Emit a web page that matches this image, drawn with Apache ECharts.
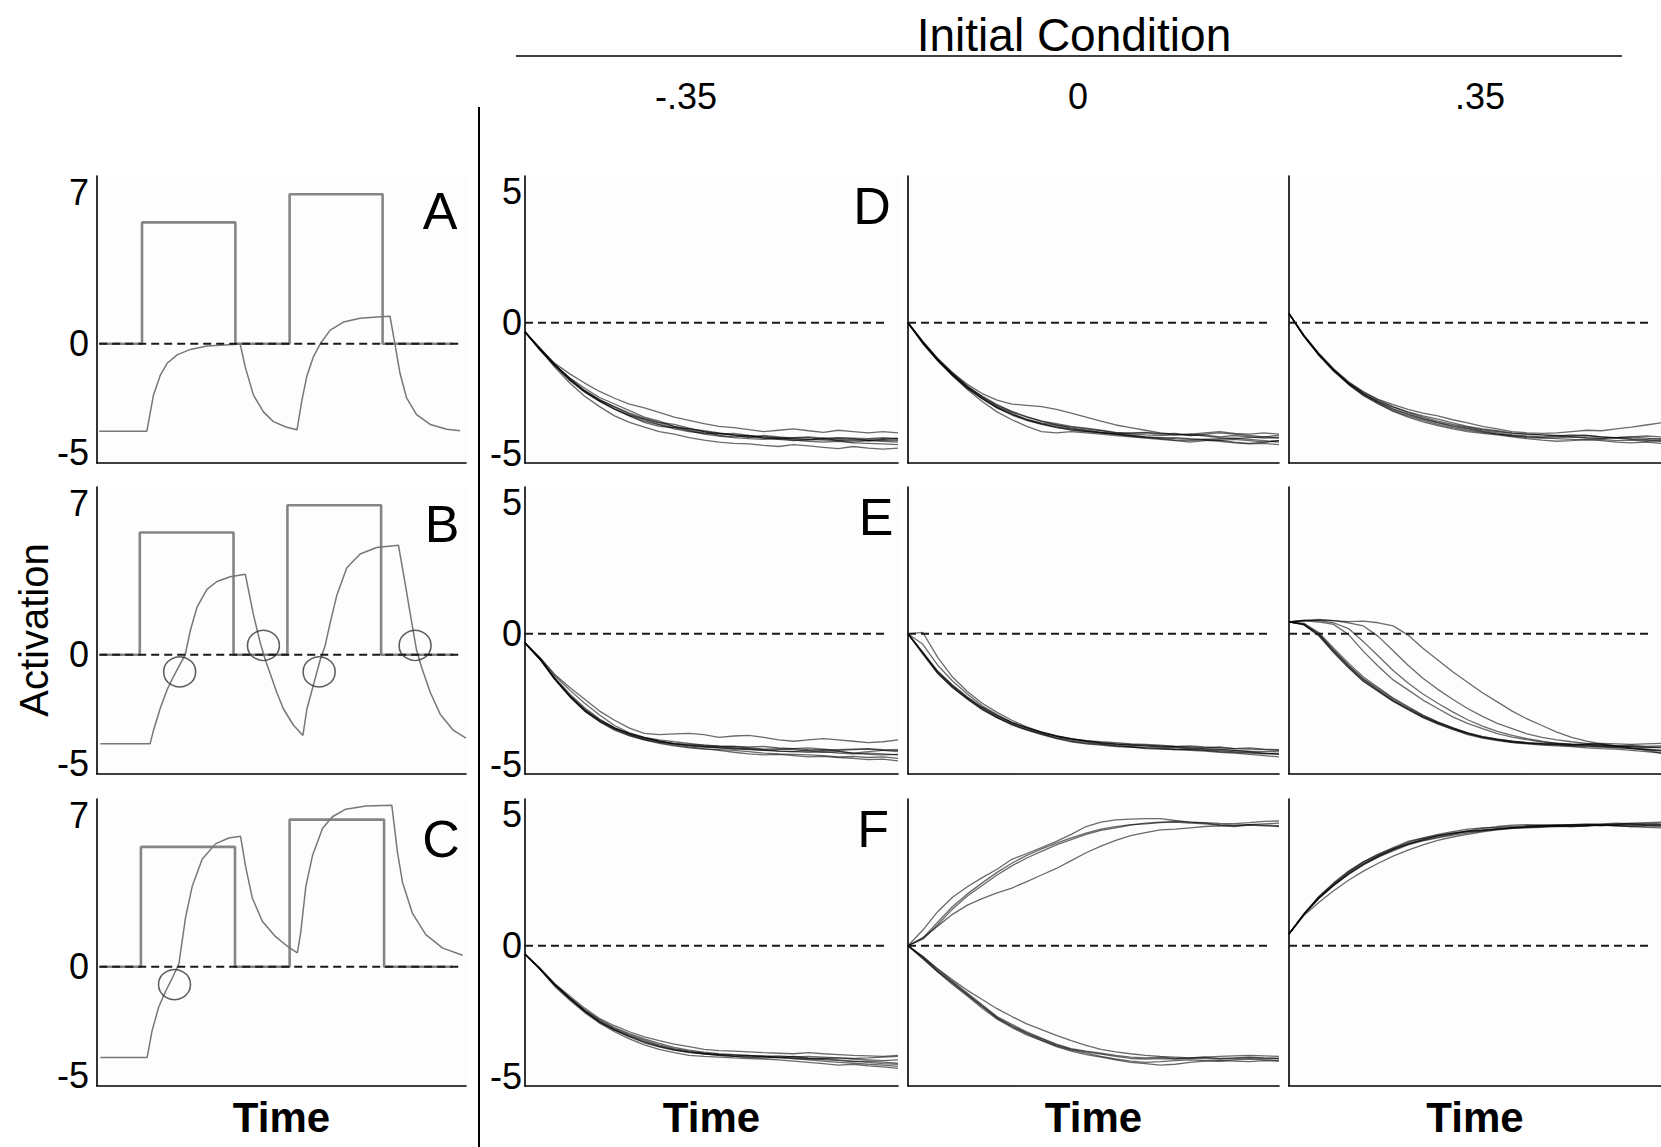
<!DOCTYPE html>
<html><head><meta charset="utf-8">
<script src="https://cdn.jsdelivr.net/npm/echarts/dist/echarts.min.js"></script>
<style>html,body{margin:0;padding:0;background:#fff}#c{width:1661px;height:1147px}</style>
</head><body><div id="c"></div>
<script>
const FONT = '"Liberation Sans", Arial, sans-serif';

// ---------- tick labels / text ----------
const leftTicks = [-5, 0, 7];
const rightTicks = [-5, 0, 5];
const conditionLabels = ['-.35', '0', '.35'];
const headerTitle = 'Initial Condition';
const leftLetters = ['A', 'B', 'C'];
const rightLetters = ['D', 'E', 'F'];

// ---------- left panels (time, value) ----------
const inputA = [[0.6,0],[12.2,0],[12.2,5.6],[37.5,5.6],[37.5,0],[52.2,0],[52.2,6.9],[77.4,6.9],[77.4,0],[96.5,0]];
const activationA = [[0.6,-4.04],[13.5,-4.04],[15.3,-2.37],[17.1,-1.47],[19.0,-0.9],[21.7,-0.51],[25.3,-0.26],[29.8,-0.1],[37.0,-0.03],[38.8,-0.01],[40.2,-1.09],[42.4,-2.37],[45.1,-3.14],[47.8,-3.59],[51.4,-3.85],[54.2,-3.97],[55.5,-2.63],[56.9,-1.47],[58.7,-0.58],[60.5,0],[63.2,0.63],[66.8,1.0],[71.3,1.18],[75.8,1.23],[79.4,1.27],[80.8,-0.06],[82.1,-1.35],[83.9,-2.5],[86.6,-3.27],[90.3,-3.72],[94.8,-3.94],[98.4,-4.01]];
const inputB = [[0.9,0],[11.6,0],[11.6,5.64],[37.0,5.64],[37.0,0],[51.6,0],[51.6,6.9],[77.0,6.9],[77.0,0],[96.6,0]];
const activationB = [[0.9,-4.1],[14.4,-4.1],[15.3,-3.49],[17.1,-2.49],[19.0,-1.61],[20.8,-0.98],[22.6,-0.41],[23.9,0],[25.3,1.12],[27.1,2.2],[29.8,3.02],[32.5,3.38],[36.1,3.6],[40.2,3.71],[42.4,1.84],[44.2,0.58],[45.6,-0.23],[46.9,-0.85],[48.7,-1.73],[50.5,-2.49],[53.2,-3.24],[55.8,-3.72],[56.9,-2.49],[58.7,-1.36],[60.5,-0.23],[61.8,0.4],[63.2,1.48],[65.0,2.75],[67.7,4.01],[71.3,4.65],[75.8,4.95],[81.7,5.05],[83.5,3.29],[85.3,1.48],[86.6,0.22],[88.0,-0.6],[90.3,-1.73],[93.0,-2.74],[96.6,-3.49],[100,-3.85]];
const circlesB = [[22.4,-0.79],[45.1,0.43],[60.2,-0.79],[86.2,0.43]];
const inputC = [[0.9,0],[11.9,0],[11.9,5.53],[37.4,5.53],[37.4,0],[52.2,0],[52.2,6.79],[77.8,6.79],[77.8,0],[96.4,0]];
const activationC = [[0.9,-4.18],[13.6,-4.18],[14.9,-2.97],[16.7,-1.87],[18.6,-1.13],[20.4,-0.52],[22.2,0.14],[24.0,2.28],[25.8,3.71],[28.5,4.96],[32.1,5.67],[35.7,5.94],[38.9,6.02],[40.3,4.6],[42.1,3.17],[44.8,2.1],[48.4,1.39],[52.0,0.89],[54.3,0.64],[55.2,1.57],[56.6,3.71],[58.4,5.13],[61.1,6.38],[63.8,6.92],[67.4,7.27],[72.9,7.42],[79.9,7.45],[81.4,5.31],[82.8,3.89],[85.5,2.46],[89.1,1.48],[93.7,0.86],[99.1,0.53]];
const circlesC = [[21.0,-0.82]];
const zeroLeft = [[0.6,0],[98.8,0]];
const zeroRight = [[0,0],[97,0]];

// ---------- right panels: trajectories sampled at these times ----------
const time = [0,4,8,12,16,20,24,28,32,36,40,44,48,52,56,60,64,68,72,76,80,84,88,92,96,100];

const panelD_neg = [
[-0.35,-1.02,-1.62,-2.1,-2.5,-2.85,-3.1,-3.35,-3.6,-3.75,-3.95,-4.1,-4.2,-4.22,-4.3,-4.38,-4.3,-4.35,-4.4,-4.38,-4.45,-4.4,-4.42,-4.5,-4.45,-4.4],
[-0.35,-1.0,-1.7,-2.3,-2.8,-3.2,-3.55,-3.8,-3.98,-4.15,-4.25,-4.38,-4.48,-4.55,-4.6,-4.62,-4.68,-4.72,-4.65,-4.7,-4.75,-4.8,-4.72,-4.78,-4.82,-4.78],
[-0.35,-1.0,-1.55,-1.95,-2.3,-2.62,-2.88,-3.1,-3.25,-3.42,-3.6,-3.72,-3.85,-3.95,-4.0,-4.08,-4.15,-4.1,-4.05,-4.12,-4.18,-4.1,-4.15,-4.2,-4.15,-4.2],
[-0.35,-1.05,-1.65,-2.2,-2.65,-3.0,-3.3,-3.55,-3.8,-3.95,-4.0,-4.05,-4.15,-4.3,-4.35,-4.3,-4.4,-4.45,-4.5,-4.45,-4.4,-4.5,-4.55,-4.5,-4.52,-4.55],
[-0.35,-0.95,-1.58,-2.15,-2.6,-2.95,-3.2,-3.45,-3.65,-3.8,-3.88,-4.02,-4.15,-4.22,-4.28,-4.32,-4.35,-4.38,-4.45,-4.48,-4.42,-4.45,-4.5,-4.45,-4.42,-4.45],
[-0.35,-1.0,-1.62,-2.18,-2.62,-2.98,-3.3,-3.55,-3.75,-3.9,-4.05,-4.15,-4.22,-4.25,-4.22,-4.3,-4.35,-4.4,-4.38,-4.35,-4.4,-4.38,-4.4,-4.42,-4.38,-4.42],
[-0.35,-1.02,-1.6,-2.12,-2.58,-2.92,-3.22,-3.48,-3.7,-3.88,-4.0,-4.12,-4.25,-4.32,-4.38,-4.42,-4.45,-4.42,-4.48,-4.52,-4.55,-4.52,-4.58,-4.6,-4.62,-4.65],
[-0.35,-0.98,-1.6,-2.15,-2.62,-2.98,-3.28,-3.52,-3.68,-3.82,-3.95,-4.05,-4.12,-4.2,-4.28,-4.35,-4.4,-4.42,-4.4,-4.45,-4.48,-4.5,-4.45,-4.5,-4.48,-4.5]
];
const panelD_zero = [
[0,-0.72,-1.35,-1.9,-2.35,-2.7,-2.95,-3.1,-3.15,-3.2,-3.3,-3.45,-3.6,-3.75,-3.9,-4.0,-4.1,-4.2,-4.25,-4.3,-4.28,-4.35,-4.3,-4.35,-4.4,-4.38],
[0,-0.78,-1.45,-2.02,-2.55,-3.0,-3.4,-3.7,-3.95,-4.15,-4.2,-4.15,-4.2,-4.25,-4.3,-4.35,-4.4,-4.45,-4.5,-4.55,-4.5,-4.48,-4.55,-4.6,-4.55,-4.5],
[0,-0.75,-1.4,-1.92,-2.42,-2.82,-3.15,-3.4,-3.6,-3.75,-3.85,-3.95,-4.02,-4.1,-4.18,-4.22,-4.2,-4.25,-4.22,-4.3,-4.25,-4.2,-4.25,-4.3,-4.35,-4.3],
[0,-0.8,-1.42,-2.0,-2.5,-2.9,-3.25,-3.5,-3.7,-3.85,-3.98,-4.1,-4.15,-4.2,-4.25,-4.3,-4.35,-4.42,-4.48,-4.5,-4.45,-4.42,-4.4,-4.45,-4.5,-4.55],
[0,-0.7,-1.38,-1.95,-2.45,-2.85,-3.2,-3.45,-3.68,-3.82,-3.9,-3.98,-4.05,-4.12,-4.2,-4.25,-4.28,-4.3,-4.28,-4.25,-4.32,-4.38,-4.42,-4.38,-4.35,-4.4],
[0,-0.76,-1.42,-1.98,-2.48,-2.88,-3.22,-3.48,-3.7,-3.86,-3.96,-4.05,-4.12,-4.18,-4.25,-4.3,-4.35,-4.38,-4.42,-4.45,-4.48,-4.52,-4.58,-4.62,-4.6,-4.65],
[0,-0.74,-1.4,-1.95,-2.42,-2.8,-3.12,-3.38,-3.58,-3.75,-3.9,-4.02,-4.1,-4.18,-4.22,-4.2,-4.18,-4.22,-4.28,-4.25,-4.2,-4.15,-4.22,-4.25,-4.2,-4.25],
[0,-0.78,-1.44,-2.0,-2.5,-2.9,-3.25,-3.52,-3.72,-3.88,-4.0,-4.08,-4.14,-4.2,-4.25,-4.32,-4.38,-4.4,-4.38,-4.42,-4.45,-4.48,-4.45,-4.5,-4.55,-4.5]
];
const panelD_pos = [
[0.35,-0.48,-1.18,-1.78,-2.28,-2.65,-2.92,-3.12,-3.3,-3.45,-3.55,-3.7,-3.82,-3.95,-4.05,-4.15,-4.2,-4.22,-4.2,-4.15,-4.1,-4.12,-4.05,-3.98,-3.9,-3.82],
[0.35,-0.52,-1.22,-1.82,-2.35,-2.78,-3.1,-3.38,-3.6,-3.78,-3.92,-4.05,-4.15,-4.22,-4.28,-4.35,-4.42,-4.48,-4.52,-4.5,-4.45,-4.5,-4.55,-4.58,-4.55,-4.6],
[0.35,-0.5,-1.2,-1.8,-2.3,-2.7,-3.0,-3.22,-3.4,-3.55,-3.68,-3.82,-3.95,-4.05,-4.12,-4.2,-4.25,-4.28,-4.3,-4.32,-4.3,-4.35,-4.38,-4.35,-4.32,-4.35],
[0.35,-0.5,-1.24,-1.85,-2.35,-2.75,-3.08,-3.35,-3.55,-3.72,-3.88,-4.0,-4.1,-4.18,-4.25,-4.3,-4.35,-4.38,-4.42,-4.45,-4.48,-4.45,-4.5,-4.48,-4.52,-4.5],
[0.35,-0.46,-1.16,-1.75,-2.25,-2.62,-2.95,-3.2,-3.42,-3.6,-3.75,-3.88,-3.98,-4.08,-4.15,-4.22,-4.25,-4.28,-4.32,-4.35,-4.38,-4.4,-4.38,-4.42,-4.45,-4.42],
[0.35,-0.52,-1.22,-1.82,-2.32,-2.72,-3.02,-3.28,-3.48,-3.65,-3.8,-3.92,-4.02,-4.12,-4.2,-4.28,-4.32,-4.35,-4.32,-4.28,-4.3,-4.35,-4.4,-4.45,-4.48,-4.52],
[0.35,-0.5,-1.2,-1.8,-2.3,-2.7,-3.05,-3.3,-3.5,-3.68,-3.82,-3.95,-4.05,-4.15,-4.25,-4.32,-4.38,-4.4,-4.38,-4.35,-4.4,-4.42,-4.38,-4.35,-4.4,-4.45]
];
const panelE_neg = [
[-0.35,-0.9,-1.55,-2.05,-2.5,-2.95,-3.3,-3.6,-3.8,-3.85,-3.82,-3.8,-3.85,-3.95,-3.9,-3.88,-3.95,-4.05,-4.1,-4.05,-4.0,-4.05,-4.1,-4.15,-4.12,-4.05],
[-0.35,-0.98,-1.75,-2.4,-2.95,-3.35,-3.68,-3.9,-4.05,-4.15,-4.25,-4.32,-4.38,-4.45,-4.52,-4.58,-4.62,-4.6,-4.65,-4.7,-4.68,-4.72,-4.75,-4.8,-4.78,-4.85],
[-0.35,-0.92,-1.6,-2.15,-2.65,-3.1,-3.5,-3.78,-3.95,-4.1,-4.2,-4.28,-4.32,-4.35,-4.4,-4.38,-4.42,-4.48,-4.5,-4.45,-4.42,-4.48,-4.55,-4.5,-4.45,-4.42],
[-0.35,-0.97,-1.72,-2.38,-2.92,-3.32,-3.62,-3.82,-3.98,-4.1,-4.2,-4.25,-4.3,-4.32,-4.3,-4.35,-4.4,-4.38,-4.42,-4.48,-4.52,-4.5,-4.55,-4.6,-4.62,-4.6],
[-0.35,-0.95,-1.7,-2.35,-2.88,-3.28,-3.6,-3.85,-4.02,-4.12,-4.18,-4.22,-4.25,-4.3,-4.35,-4.4,-4.45,-4.42,-4.38,-4.35,-4.4,-4.45,-4.42,-4.4,-4.45,-4.5],
[-0.35,-0.96,-1.74,-2.4,-2.95,-3.35,-3.65,-3.88,-4.05,-4.18,-4.28,-4.35,-4.4,-4.42,-4.45,-4.5,-4.55,-4.58,-4.6,-4.62,-4.65,-4.7,-4.68,-4.72,-4.7,-4.75],
[-0.35,-0.94,-1.68,-2.3,-2.82,-3.25,-3.58,-3.8,-3.95,-4.05,-4.12,-4.18,-4.25,-4.28,-4.3,-4.32,-4.3,-4.35,-4.38,-4.42,-4.45,-4.42,-4.4,-4.38,-4.42,-4.45],
[-0.35,-0.96,-1.72,-2.36,-2.9,-3.3,-3.6,-3.82,-3.98,-4.1,-4.2,-4.26,-4.3,-4.35,-4.38,-4.42,-4.45,-4.48,-4.5,-4.52,-4.5,-4.55,-4.58,-4.55,-4.58,-4.62]
];
const panelE_zero = [
[0,0.05,-0.9,-1.65,-2.2,-2.65,-3.0,-3.3,-3.55,-3.75,-3.9,-4.0,-4.1,-4.15,-4.2,-4.25,-4.28,-4.3,-4.32,-4.35,-4.38,-4.4,-4.45,-4.5,-4.55,-4.6],
[0,-0.75,-1.5,-2.05,-2.5,-2.9,-3.2,-3.45,-3.65,-3.82,-3.98,-4.1,-4.18,-4.22,-4.28,-4.32,-4.35,-4.38,-4.42,-4.45,-4.48,-4.52,-4.55,-4.6,-4.65,-4.7],
[0,-0.7,-1.42,-1.95,-2.4,-2.8,-3.12,-3.4,-3.6,-3.78,-3.92,-4.02,-4.08,-4.12,-4.15,-4.2,-4.22,-4.25,-4.3,-4.32,-4.35,-4.32,-4.38,-4.4,-4.42,-4.45],
[0,-0.78,-1.52,-2.05,-2.48,-2.88,-3.2,-3.48,-3.68,-3.85,-4.0,-4.12,-4.2,-4.25,-4.3,-4.32,-4.38,-4.4,-4.42,-4.4,-4.45,-4.5,-4.52,-4.55,-4.58,-4.55],
[0,-0.4,-1.2,-1.8,-2.3,-2.75,-3.08,-3.38,-3.58,-3.75,-3.9,-4.02,-4.1,-4.18,-4.22,-4.25,-4.28,-4.32,-4.35,-4.38,-4.4,-4.42,-4.45,-4.48,-4.5,-4.48],
[0,-0.72,-1.45,-1.98,-2.44,-2.85,-3.18,-3.45,-3.66,-3.82,-3.96,-4.06,-4.14,-4.2,-4.26,-4.3,-4.34,-4.36,-4.4,-4.42,-4.44,-4.46,-4.5,-4.52,-4.56,-4.6],
[0,-0.74,-1.46,-2.0,-2.45,-2.82,-3.12,-3.38,-3.58,-3.75,-3.9,-4.0,-4.08,-4.15,-4.2,-4.22,-4.25,-4.28,-4.3,-4.28,-4.32,-4.35,-4.38,-4.35,-4.4,-4.42]
];
const panelE_pos = [
[0.45,0.38,0.0,-0.62,-1.2,-1.72,-2.1,-2.48,-2.82,-3.12,-3.38,-3.6,-3.78,-3.92,-4.02,-4.1,-4.15,-4.2,-4.22,-4.25,-4.22,-4.25,-4.28,-4.25,-4.3,-4.28],
[0.45,0.34,-0.08,-0.72,-1.3,-1.82,-2.2,-2.58,-2.9,-3.2,-3.45,-3.65,-3.85,-3.98,-4.08,-4.15,-4.2,-4.25,-4.28,-4.3,-4.35,-4.38,-4.4,-4.45,-4.5,-4.55],
[0.45,0.36,-0.02,-0.65,-1.22,-1.75,-2.15,-2.55,-2.88,-3.18,-3.4,-3.6,-3.8,-3.95,-4.05,-4.12,-4.15,-4.18,-4.2,-4.22,-4.2,-4.18,-4.2,-4.22,-4.2,-4.18],
[0.45,0.4,0.05,-0.55,-1.12,-1.65,-2.05,-2.45,-2.78,-3.1,-3.36,-3.58,-3.78,-3.92,-4.02,-4.1,-4.18,-4.22,-4.25,-4.28,-4.3,-4.32,-4.35,-4.38,-4.42,-4.45],
[0.45,0.35,-0.05,-0.7,-1.28,-1.8,-2.18,-2.55,-2.86,-3.16,-3.42,-3.64,-3.82,-3.95,-4.05,-4.14,-4.18,-4.2,-4.22,-4.26,-4.28,-4.3,-4.32,-4.3,-4.35,-4.32],
[0.45,0.5,0.45,0.36,-0.03,-0.67,-1.24,-1.76,-2.14,-2.53,-2.85,-3.17,-3.42,-3.62,-3.81,-3.94,-4.04,-4.13,-4.17,-4.21,-4.23,-4.25,-4.28,-4.3,-4.32,-4.35],
[0.45,0.52,0.5,0.42,0.2,-0.3,-0.85,-1.4,-1.88,-2.3,-2.65,-2.98,-3.28,-3.52,-3.72,-3.88,-4.0,-4.1,-4.18,-4.22,-4.25,-4.28,-4.32,-4.38,-4.42,-4.48],
[0.45,0.5,0.55,0.5,0.42,0.3,-0.1,-0.65,-1.2,-1.7,-2.12,-2.5,-2.85,-3.15,-3.42,-3.62,-3.82,-3.95,-4.05,-4.12,-4.18,-4.22,-4.28,-4.35,-4.45,-4.55],
[0.45,0.48,0.52,0.5,0.46,0.48,0.42,0.3,-0.05,-0.55,-1.0,-1.45,-1.85,-2.25,-2.6,-2.95,-3.25,-3.5,-3.75,-3.95,-4.1,-4.2,-4.28,-4.35,-4.4,-4.45]
];
const panelF_neg = [
[-0.32,-0.85,-1.45,-1.92,-2.38,-2.78,-3.05,-3.28,-3.48,-3.62,-3.75,-3.85,-3.95,-4.0,-4.02,-4.05,-4.08,-4.1,-4.12,-4.08,-4.12,-4.15,-4.18,-4.2,-4.22,-4.18],
[-0.32,-0.9,-1.55,-2.08,-2.55,-2.95,-3.28,-3.55,-3.78,-3.95,-4.08,-4.18,-4.22,-4.25,-4.28,-4.3,-4.32,-4.35,-4.4,-4.45,-4.5,-4.55,-4.52,-4.58,-4.62,-4.68],
[-0.32,-0.88,-1.5,-2.0,-2.5,-2.9,-3.2,-3.45,-3.68,-3.85,-3.98,-4.08,-4.12,-4.15,-4.2,-4.18,-4.22,-4.25,-4.22,-4.28,-4.3,-4.28,-4.32,-4.35,-4.38,-4.35],
[-0.32,-0.86,-1.48,-1.98,-2.45,-2.82,-3.12,-3.35,-3.55,-3.72,-3.88,-3.98,-4.06,-4.12,-4.15,-4.18,-4.2,-4.25,-4.3,-4.35,-4.4,-4.45,-4.48,-4.52,-4.55,-4.6],
[-0.32,-0.9,-1.52,-2.02,-2.5,-2.9,-3.22,-3.48,-3.7,-3.86,-3.98,-4.06,-4.12,-4.18,-4.22,-4.25,-4.28,-4.26,-4.24,-4.22,-4.25,-4.28,-4.3,-4.28,-4.25,-4.22],
[-0.32,-0.88,-1.5,-2.02,-2.5,-2.92,-3.22,-3.45,-3.65,-3.82,-3.95,-4.05,-4.12,-4.18,-4.22,-4.25,-4.22,-4.2,-4.24,-4.3,-4.34,-4.38,-4.42,-4.4,-4.44,-4.48],
[-0.32,-0.87,-1.47,-1.98,-2.46,-2.86,-3.16,-3.4,-3.6,-3.78,-3.92,-4.02,-4.1,-4.14,-4.16,-4.2,-4.24,-4.28,-4.3,-4.32,-4.3,-4.35,-4.4,-4.45,-4.5,-4.52]
];
const panelF_zero = [
[0,0.6,1.3,1.85,2.25,2.6,2.92,3.3,3.52,3.75,3.98,4.25,4.55,4.72,4.8,4.83,4.85,4.85,4.78,4.72,4.7,4.67,4.66,4.7,4.75,4.76],
[0,0.25,0.8,1.4,1.9,2.3,2.7,3.05,3.35,3.6,3.85,4.05,4.25,4.4,4.5,4.6,4.68,4.72,4.75,4.72,4.68,4.62,4.6,4.62,4.6,4.58],
[0,0.3,0.9,1.5,1.98,2.4,2.8,3.15,3.45,3.7,3.92,4.12,4.3,4.45,4.55,4.62,4.65,4.7,4.72,4.68,4.65,4.6,4.58,4.62,4.65,4.68],
[0,0.3,0.75,1.2,1.55,1.8,2.02,2.2,2.45,2.7,2.95,3.25,3.55,3.8,4.02,4.2,4.32,4.42,4.45,4.5,4.55,4.58,4.55,4.6,4.58,4.55],
[0,-0.45,-0.95,-1.4,-1.85,-2.3,-2.74,-3.05,-3.32,-3.55,-3.78,-3.95,-4.05,-4.13,-4.22,-4.3,-4.32,-4.3,-4.32,-4.3,-4.3,-4.32,-4.3,-4.28,-4.3,-4.3],
[0,-0.4,-0.9,-1.35,-1.8,-2.25,-2.7,-3.0,-3.28,-3.52,-3.75,-3.92,-4.02,-4.1,-4.18,-4.25,-4.28,-4.25,-4.3,-4.28,-4.25,-4.3,-4.28,-4.25,-4.28,-4.3],
[0,-0.5,-1.0,-1.48,-1.92,-2.38,-2.8,-3.12,-3.4,-3.62,-3.85,-4.02,-4.15,-4.25,-4.35,-4.45,-4.5,-4.55,-4.52,-4.45,-4.4,-4.38,-4.4,-4.42,-4.38,-4.4],
[0,-0.42,-0.88,-1.3,-1.7,-2.05,-2.4,-2.7,-2.98,-3.2,-3.42,-3.62,-3.8,-3.95,-4.05,-4.12,-4.18,-4.22,-4.25,-4.28,-4.25,-4.22,-4.2,-4.18,-4.2,-4.22],
[0,-0.48,-0.98,-1.42,-1.88,-2.32,-2.76,-3.08,-3.35,-3.6,-3.82,-3.98,-4.1,-4.22,-4.32,-4.4,-4.45,-4.42,-4.38,-4.35,-4.38,-4.4,-4.35,-4.32,-4.35,-4.38]
];
const panelF_pos = [
[0.45,1.22,1.85,2.38,2.82,3.2,3.5,3.75,3.98,4.12,4.25,4.35,4.45,4.5,4.52,4.55,4.58,4.6,4.62,4.6,4.62,4.65,4.68,4.65,4.62,4.6],
[0.45,1.15,1.65,2.1,2.5,2.85,3.15,3.42,3.65,3.85,4.02,4.15,4.25,4.35,4.42,4.48,4.52,4.55,4.58,4.6,4.62,4.6,4.58,4.55,4.58,4.6],
[0.45,1.2,1.82,2.32,2.75,3.12,3.42,3.7,3.95,4.1,4.2,4.28,4.35,4.4,4.45,4.5,4.55,4.58,4.56,4.55,4.58,4.62,4.65,4.68,4.7,4.72],
[0.45,1.22,1.88,2.4,2.85,3.2,3.48,3.72,3.9,4.02,4.15,4.25,4.38,4.48,4.55,4.6,4.62,4.6,4.58,4.55,4.58,4.6,4.62,4.6,4.58,4.55],
[0.45,1.18,1.8,2.3,2.72,3.08,3.38,3.62,3.85,4.0,4.12,4.22,4.3,4.38,4.45,4.5,4.52,4.55,4.58,4.62,4.65,4.62,4.6,4.62,4.65,4.68],
[0.45,1.2,1.84,2.34,2.78,3.14,3.44,3.68,3.88,4.05,4.2,4.3,4.38,4.42,4.48,4.52,4.55,4.58,4.6,4.62,4.6,4.58,4.62,4.66,4.64,4.62],
[0.45,1.2,1.8,2.3,2.74,3.1,3.4,3.66,3.88,4.06,4.2,4.3,4.36,4.4,4.44,4.48,4.5,4.52,4.55,4.56,4.58,4.6,4.58,4.55,4.52,4.5]
];

// ---------- layout ----------
const rowTops = [176, 487, 799];
const PH = 287;
const leftCol = {left: 97, width: 369};
const rightCols = [{left: 525, width: 373}, {left: 908, width: 371}, {left: 1289, width: 372}];
const LEFT_RANGE = [-5.5, 7.74];
const RIGHT_RANGE = [-5.35, 5.6];

const rightPanels = [
  [panelD_neg, panelD_zero, panelD_pos],
  [panelE_neg, panelE_zero, panelE_pos],
  [panelF_neg, panelF_zero, panelF_pos]
];

const grids = [], xAxes = [], yAxes = [], series = [];
const axisLineStyle = {color: '#000', width: 1.6};

function addGrid(left, top, width, bottomRow, range, ticks, showLabels) {
  const idx = grids.length;
  grids.push({left, top, width, height: PH, show: true, backgroundColor: '#fdfdfd', borderWidth: 0});
  xAxes.push({
    gridIndex: idx, type: 'value', min: 0, max: 100,
    axisLine: {show: true, onZero: false, lineStyle: axisLineStyle},
    axisTick: {show: false}, axisLabel: {show: false}, splitLine: {show: false},
    name: bottomRow ? 'Time' : '', nameLocation: 'middle', nameGap: 10,
    nameTextStyle: {fontFamily: FONT, fontSize: 42, fontWeight: 'bold', color: '#000', verticalAlign: 'top'}
  });
  yAxes.push({
    gridIndex: idx, type: 'value', min: range[0], max: range[1],
    axisLine: {show: true, onZero: false, lineStyle: axisLineStyle},
    axisTick: {show: false}, splitLine: {show: false},
    axisLabel: {show: showLabels, customValues: ticks, fontFamily: FONT, fontSize: 36, color: '#000', margin: showLabels && ticks === leftTicks ? 8 : 3}
  });
  return idx;
}

const dashStyle = {color: '#1a1a1a', width: 2, type: [8, 5]};
function lineSeries(g, data, style, z) {
  series.push({type: 'line', xAxisIndex: g, yAxisIndex: g, data, showSymbol: false, symbol: 'none',
    lineStyle: style, silent: true, animation: false, z: z || 2});
}

// left panels
const leftData = [[inputA, activationA, null], [inputB, activationB, circlesB], [inputC, activationC, circlesC]];
leftData.forEach((d, r) => {
  const g = addGrid(leftCol.left, rowTops[r], leftCol.width, r === 2, LEFT_RANGE, leftTicks, true);
  lineSeries(g, d[0], {color: '#858585', width: 2.6}, 2);
  lineSeries(g, d[1], {color: '#777777', width: 1.5}, 3);
  lineSeries(g, zeroLeft, dashStyle, 4);
  if (d[2]) {
    series.push({type: 'scatter', xAxisIndex: g, yAxisIndex: g, data: d[2], symbol: 'circle', symbolSize: [32, 30],
      itemStyle: {color: 'rgba(0,0,0,0)', borderColor: '#333', borderWidth: 1.5}, silent: true, animation: false, z: 5});
  }
});

// right panels
rightPanels.forEach((row, r) => {
  row.forEach((trajs, c) => {
    const col = rightCols[c];
    const g = addGrid(col.left, rowTops[r], col.width, r === 2, RIGHT_RANGE, rightTicks, c === 0);
    lineSeries(g, zeroRight, dashStyle, 4);
    trajs.forEach(tr => {
      lineSeries(g, time.map((t, i) => [t, tr[i]]), {color: 'rgba(0,0,0,0.58)', width: 1.3}, 3);
    });
  });
});

// ---------- text / decoration ----------
const graphic = [];
function txt(text, x, y, size, opts) {
  graphic.push(Object.assign({type: 'text', x, y, silent: true,
    style: {text, x: 0, y: 0, fill: '#000', font: size + 'px ' + FONT, textAlign: 'center', textVerticalAlign: 'middle'}}, opts || {}));
}
const leftLetterPos = [[440, 211], [442, 524], [441, 839]];
leftLetters.forEach((L, i) => txt(L, leftLetterPos[i][0], leftLetterPos[i][1], 52));
const rightLetterPos = [[872, 206], [876, 517], [873, 829]];
rightLetters.forEach((L, i) => txt(L, rightLetterPos[i][0], rightLetterPos[i][1], 52));
txt(headerTitle, 1074, 35, 46);
const condX = [686, 1078, 1480];
conditionLabels.forEach((s, i) => txt(s, condX[i], 96, 36));
txt('Activation', 34, 630, 40, {rotation: Math.PI / 2});
graphic.push({type: 'line', silent: true, shape: {x1: 516, y1: 56, x2: 1622, y2: 56}, style: {stroke: '#000', lineWidth: 1.6}});
graphic.push({type: 'line', silent: true, shape: {x1: 479, y1: 107, x2: 479, y2: 1147}, style: {stroke: '#000', lineWidth: 2}});

const chart = echarts.init(document.getElementById('c'), null, {renderer: 'svg', width: 1661, height: 1147});
chart.setOption({
  backgroundColor: '#ffffff',
  animation: false,
  grid: grids, xAxis: xAxes, yAxis: yAxes, series, graphic
});
</script>
</body></html>
